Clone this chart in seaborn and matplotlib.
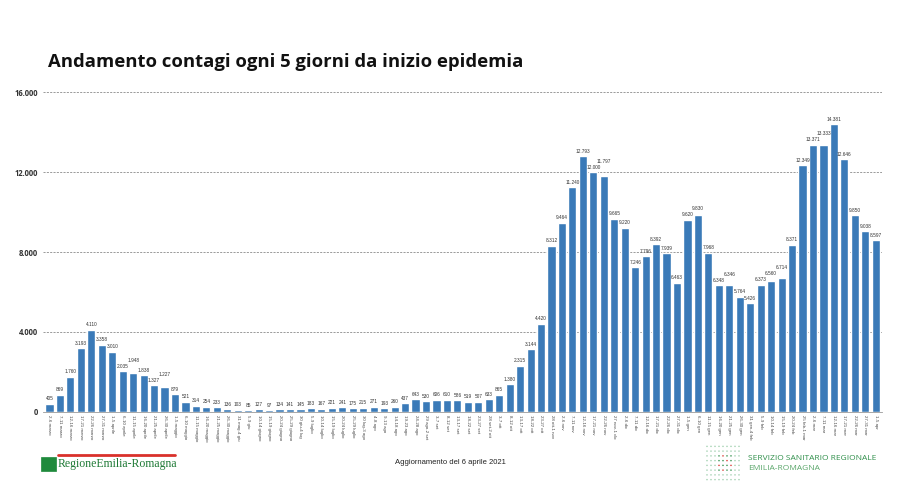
import matplotlib
matplotlib.use("Agg")
import matplotlib.pyplot as plt
import seaborn as sns
import pandas as pd

periodi = [
    "2-6 marzo", "7-11 marzo", "12-16 marzo", "17-21 marzo", "22-26 marzo", "27-31 marzo",
    "1-5 aprile", "6-10 aprile", "11-15 aprile", "16-20 aprile", "21-25 aprile", "26-30 aprile",
    "1-5 maggio", "6-10 maggio", "11-15 maggio", "16-20 maggio", "21-25 maggio", "26-30 maggio",
    "31 mag-4 giu", "5-9 giu", "10-14 giugno", "15-19 giugno", "20-24 giugno", "25-29 giugno",
    "30 giu-4 lug", "5-9 luglio", "10-14 luglio", "15-19 luglio", "20-24 luglio", "25-29 luglio",
    "30 lug-3 ago", "4-8 ago", "9-13 ago", "14-18 ago", "19-23 ago", "24-28 ago",
    "29 ago-2 set", "3-7 set", "8-12 set", "13-17 set", "18-22 set", "23-27 set",
    "28 set-2 ott", "3-7 ott", "8-12 ott", "13-17 ott", "18-22 ott", "23-27 ott",
    "28 ott-1 nov", "2-6 nov", "7-11 nov", "12-16 nov", "17-21 nov", "22-26 nov",
    "27 nov-1 dic", "2-6 dic", "7-11 dic", "12-16 dic", "17-21 dic", "22-26 dic",
    "27-31 dic", "1-5 gen", "6-10 gen", "11-15 gen", "16-20 gen", "21-25 gen",
    "26-30 gen", "31 gen-4 feb", "5-9 feb", "10-14 feb", "15-19 feb", "20-24 feb",
    "25 feb-1 mar", "2-6 mar", "7-11 mar", "12-16 mar", "17-21 mar", "22-26 mar",
    "27-31 mar", "1-5 apr",
]

contagi = [
    405, 869, 1760, 3193, 4110, 3358, 3010, 2035, 1948, 1838, 1327, 1227,
    879, 521, 314, 254, 233, 136, 103, 85, 127, 97, 134, 141,
    145, 183, 167, 221, 241, 175, 215, 271, 193, 260, 437, 643,
    530, 606, 610, 586, 519, 507, 633, 865, 1380, 2315, 3144, 4420,
    8312, 9464, 11240, 12793, 12000, 11797, 9665, 9220, 7246, 7796, 8392, 7939,
    6463, 9620, 9830, 7968, 6348, 6346, 5764, 5426, 6373, 6560, 6714, 8371,
    12349, 13371, 13333, 14381, 12646, 9850, 9038, 8597,
]

y_ticks = [0, 4000, 8000, 12000, 16000]

titolo = "Andamento contagi ogni 5 giorni da inizio epidemia"
aggiornamento = "Aggiornamento del 6 aprile 2021"

def fmt(v):
    return f"{v:,}".replace(",", ".")

df = pd.DataFrame({"periodo": periodi, "contagi": contagi})

sns.set_theme(style="white")
plt.rcParams["font.family"] = ["Open Sans", "DejaVu Sans"]
narrow = ["Liberation Sans Narrow", "Liberation Sans", "DejaVu Sans"]

fig = plt.figure(figsize=(9.0, 5.03), dpi=100)
ax = fig.add_axes([0.048, 0.181, 0.932, 0.636])

bar_color = "#3a7ab8"
sns.barplot(data=df, x="periodo", y="contagi", color=bar_color, saturation=1,
            width=0.78, ax=ax, zorder=3)

ax.set_ylim(0, 16000)
ax.set_xlim(-0.6, len(periodi) - 0.4)
ax.set_yticks(y_ticks)
ax.set_yticklabels([fmt(v) for v in y_ticks], fontsize=5.5, color="#333333",
                   fontweight="bold")
for t in y_ticks[1:]:
    ax.axhline(t, color="#8a8a8a", lw=0.6, ls=(0, (2.5, 1.5)), zorder=1)
ax.tick_params(axis="y", length=0, pad=4)
ax.tick_params(axis="x", length=0, pad=2)
ax.set_xticks(range(len(periodi)))
ax.set_xticklabels(periodi, rotation=-90, fontsize=3.2, color="#444444",
                   ha="center", va="top", family=narrow)
ax.set_xlabel("")
ax.set_ylabel("")
for s in ["top", "right", "left"]:
    ax.spines[s].set_visible(False)
ax.spines["bottom"].set_color("#9a9a9a")
ax.spines["bottom"].set_linewidth(0.6)

labels = []
for i, v in enumerate(contagi):
    labels.append(ax.text(i, v + 120, fmt(v), ha="center", va="bottom",
                          fontsize=3.4, color="#333333", zorder=4, family=narrow))

# lift a value label when it would collide with its left neighbour
fig.canvas.draw()
renderer = fig.canvas.get_renderer()
inv = ax.transData.inverted()
for i in range(1, len(labels)):
    prev = labels[i - 1].get_window_extent(renderer)
    cur = labels[i].get_window_extent(renderer)
    if cur.x0 < prev.x1 + 0.5 and cur.y0 < prev.y1 + 0.5 and cur.y1 > prev.y0 - 0.5:
        shift_px = prev.y1 + 1.0 - cur.y0
        x_d, y_d = labels[i].get_position()
        _, y0 = inv.transform((0, 0))
        _, y1 = inv.transform((0, shift_px))
        labels[i].set_position((x_d, y_d + (y1 - y0)))

fig.text(48 / 900, 1 - 62 / 503, titolo, fontsize=13.3, fontweight="bold",
         color="#111111", ha="left", va="center")

# footer
fig.text(0.5, 1 - 463 / 503, aggiornamento, fontsize=5.5, color="#222222",
         ha="center", va="center", family=narrow)

fig.add_artist(plt.Line2D([58 / 900, 175 / 900], [1 - 455 / 503, 1 - 455 / 503],
                          color="#d9312b", lw=2.0))
fig.add_artist(plt.Rectangle((41 / 900, 1 - 471 / 503), 15 / 900, 14 / 503,
                             facecolor="#1f8a3c", edgecolor="#1f8a3c", lw=0.5))
fig.text(58 / 900, 1 - 464 / 503, "RegioneEmilia-Romagna", fontsize=8.5,
         color="#1f7a36", ha="left", va="center",
         family=["Liberation Serif", "DejaVu Serif"])

fig.text(748 / 900, 1 - 458 / 503, "SERVIZIO SANITARIO REGIONALE", fontsize=6,
         color="#2f8f4a", ha="left", va="center")
fig.text(748 / 900, 1 - 469 / 503, "EMILIA-ROMAGNA", fontsize=6,
         color="#5aa66a", ha="left", va="center")

dax = fig.add_axes([705 / 900, 1 - 482 / 503, 36 / 900, 38 / 503])
dax.set_axis_off()
xs, ys, cs = [], [], []
for r in range(8):
    for c in range(9):
        xs.append(c)
        ys.append(r)
        if 2 <= r <= 5 and 3 <= c <= 6:
            cs.append("#d9312b" if (r + c) % 3 == 0 else "#2f8f4a")
        else:
            cs.append("#9fcfae")
dax.scatter(xs, ys, s=1.2, c=cs, linewidths=0)
dax.set_xlim(-0.5, 8.5)
dax.set_ylim(-0.5, 7.5)

fig.savefig("out.png", dpi=100, facecolor="white")
